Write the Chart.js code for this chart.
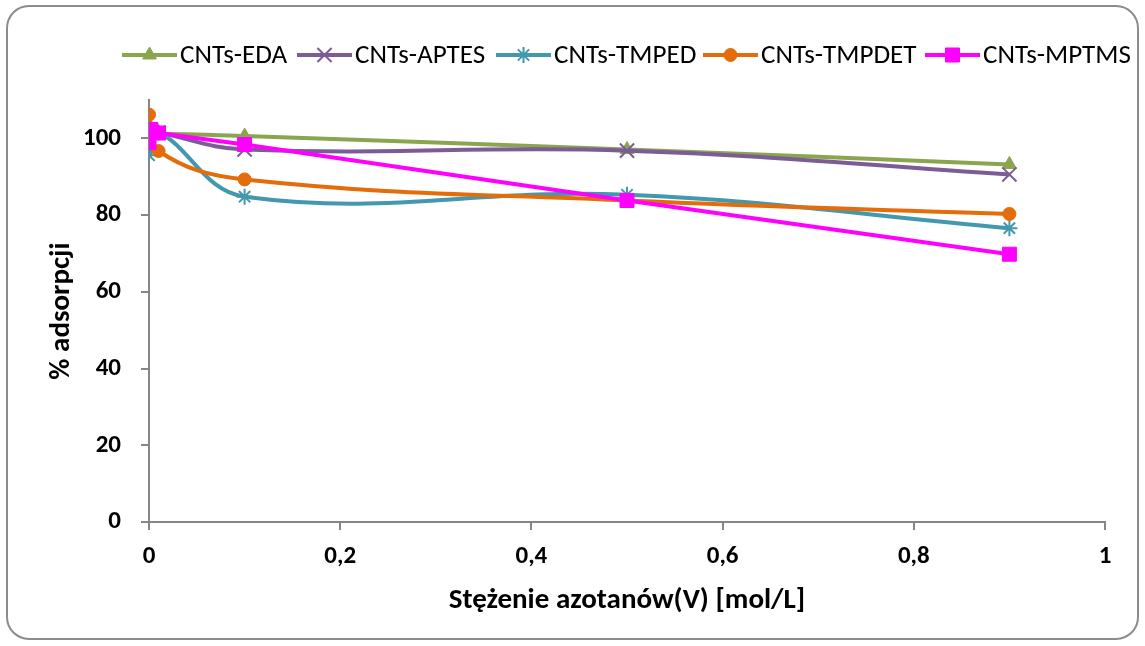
<!DOCTYPE html>
<html><head><meta charset="utf-8">
<script src="https://cdn.jsdelivr.net/npm/chart.js@4/dist/chart.umd.min.js"></script>
<style>html,body{margin:0;padding:0;background:#fff;}#wrap{position:relative;width:1145px;height:646px;}</style>
</head><body><div id="wrap"><canvas id="c" width="1145" height="646"></canvas></div>
<script>
// ---- data ----
const seriesNames = ['CNTs-EDA', 'CNTs-APTES', 'CNTs-TMPED', 'CNTs-TMPDET', 'CNTs-MPTMS'];
const xEDA    = [0, 0.01, 0.1, 0.5, 0.9];
const yEDA    = [101, 101.2, 100.6, 97.1, 93.2];
const xAPTES  = [0, 0.01, 0.1, 0.5, 0.9];
const yAPTES  = [102, 101.5, 97.1, 96.8, 90.6];
const xTMPED  = [0, 0.01, 0.1, 0.5, 0.9];
const yTMPED  = [95.6, 101.5, 84.8, 85.3, 76.6];
const xTMPDET = [0, 0.01, 0.1, 0.5, 0.9];
const yTMPDET = [106.2, 96.7, 89.3, 83.8, 80.3];
const xMPTMS  = [0, 0.002, 0.01, 0.1, 0.5, 0.9];
const yMPTMS  = [98.9, 102.3, 101.4, 98.4, 83.8, 69.8];
const xTicks  = [0, 0.2, 0.4, 0.6, 0.8, 1];
const yTicks  = [0, 20, 40, 60, 80, 100];

const FONT = "'Carlito','Liberation Sans Narrow','Liberation Sans',Arial,sans-serif";
const pts = (xs, ys) => xs.map((x, i) => ({x: x, y: ys[i]}));

const styles = [
  {color: '#8AA54E', pointStyle: 'triangle', radius: 8, bw: 1, tension: 0.4},
  {color: '#7B5C97', pointStyle: 'crossRot', radius: 10, bw: 2, tension: 0.4},
  {color: '#4198AF', pointStyle: 'star', radius: 8, bw: 2, tension: 0.4},
  {color: '#E46C0A', pointStyle: 'circle', radius: 6.5, bw: 1, tension: 0.4},
  {color: '#FF00FF', pointStyle: 'rect', radius: 9.9, bw: 1, tension: 0}
];
const dataSets = [pts(xEDA, yEDA), pts(xAPTES, yAPTES), pts(xTMPED, yTMPED), pts(xTMPDET, yTMPDET), pts(xMPTMS, yMPTMS)];

const datasets = dataSets.map((d, i) => ({
  label: seriesNames[i],
  data: d,
  order: dataSets.length - i,
  borderColor: styles[i].color,
  backgroundColor: styles[i].color,
  borderWidth: 4,
  pointStyle: styles[i].pointStyle,
  pointRadius: styles[i].radius,
  pointBorderWidth: styles[i].bw,
  pointBackgroundColor: styles[i].color,
  pointBorderColor: styles[i].color,
  tension: styles[i].tension,
  fill: false
}));

const frame = {
  id: 'frame',
  beforeDraw(chart) {
    const ctx = chart.ctx;
    ctx.save();
    ctx.fillStyle = '#fff';
    ctx.fillRect(0, 0, chart.width, chart.height);
    ctx.strokeStyle = '#8c8c8c';
    ctx.lineWidth = 2;
    ctx.beginPath();
    ctx.roundRect(7, 6, 1131, 633, 22);
    ctx.stroke();
    ctx.restore();
  }
};

const legendX = [122, 297, 496, 703, 925];
const legend = {
  id: 'customLegend',
  afterDraw(chart) {
    const ctx = chart.ctx;
    ctx.save();
    const y = 55;
    let size = 22;
    ctx.font = size + 'px ' + FONT;
    const w = ctx.measureText('CNTs-MPTMS').width;
    size = size * 148 / w;
    ctx.font = size + 'px ' + FONT;
    ctx.textBaseline = 'middle';
    chart.data.datasets.forEach((ds, i) => {
      const x0 = legendX[i];
      ctx.strokeStyle = ds.borderColor;
      ctx.lineWidth = 4;
      ctx.beginPath();
      ctx.moveTo(x0, y);
      ctx.lineTo(x0 + 55, y);
      ctx.stroke();
      ctx.fillStyle = ds.borderColor;
      ctx.lineWidth = ds.pointBorderWidth;
      Chart.helpers.drawPoint(ctx, {pointStyle: ds.pointStyle, rotation: 0, radius: ds.pointRadius, borderWidth: ds.pointBorderWidth}, x0 + 27.5, y);
      ctx.fillStyle = '#000';
      ctx.fillText(ds.label, x0 + 58, y + 1);
    });
    ctx.restore();
  }
};

const fmt = v => (v === 0 || v === 1) ? String(v) : v.toFixed(1).replace('.', ',');

new Chart(document.getElementById('c'), {
  type: 'line',
  data: {datasets: datasets},
  plugins: [frame, legend],
  options: {
    responsive: false,
    animation: false,
    devicePixelRatio: 1,
    layout: {padding: {left: 8, right: 40, top: 100, bottom: 10}},
    plugins: {legend: {display: false}, tooltip: {enabled: false}},
    scales: {
      x: {
        type: 'linear', min: 0, max: 1,
        afterFit(s) { s.height = 114; },
        afterBuildTicks(s) { s.ticks = xTicks.map(v => ({value: v})); },
        ticks: {callback: fmt, color: '#000', font: {family: FONT, size: 25, weight: 'bold'}, padding: 12, maxRotation: 0},
        grid: {drawOnChartArea: false, drawTicks: true, tickLength: 8, color: '#868686', lineWidth: 2},
        border: {color: '#868686', width: 2},
        title: {display: true, text: 'Stężenie azotanów(V) [mol/L]', color: '#000', font: {family: FONT, size: 29, weight: 'bold'}, padding: {top: 0, bottom: 18}}
      },
      y: {
        min: 0, max: 110,
        afterFit(s) { s.width = 141; },
        afterBuildTicks(s) { s.ticks = yTicks.map(v => ({value: v})); },
        ticks: {color: '#000', font: {family: FONT, size: 25, weight: 'bold'}, padding: 20},
        grid: {drawOnChartArea: false, drawTicks: true, tickLength: 8, color: '#868686', lineWidth: 2},
        border: {color: '#868686', width: 2},
        title: {display: true, text: '% adsorpcji', color: '#000', font: {family: FONT, size: 29, weight: 'bold'}, padding: {top: 36, bottom: 0}}
      }
    }
  }
});
</script>
</body></html>
